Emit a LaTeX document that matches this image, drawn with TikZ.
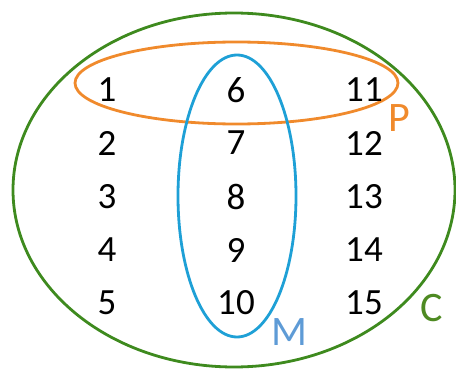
\documentclass[tikz,border=0pt]{standalone}
\usepackage{fontspec}
\setmainfont{Carlito}
\definecolor{cgreen}{HTML}{3E8A1E}
\definecolor{corange}{HTML}{F08A2C}
\definecolor{cblue}{HTML}{1EA0D6}
\definecolor{lblue}{HTML}{5E9BD6}
\definecolor{lgreen}{HTML}{4E8A22}
\begin{document}
\begin{tikzpicture}[x=1pt,y=-1pt,
  num/.style={font=\fontsize{37}{37}\selectfont, inner sep=0pt, anchor=center},
  lab/.style={font=\fontsize{42}{42}\selectfont, inner sep=0pt, anchor=center},
  ring/.style={line width=2.8pt}]
\useasboundingbox (0,0) rectangle (456,369);
\draw[ring, cgreen] (234,190) ellipse [x radius=221, y radius=177];
\draw[ring, corange] (236.5,83) ellipse [x radius=161.5, y radius=41];
\draw[ring, cblue] (237,196) ellipse [x radius=59, y radius=141];
\foreach \c/\x in {0/107,1/236,2/364}{
  \foreach \r/\y in {1/90,2/143,3/197,4/250,5/303}{
    \pgfmathtruncatemacro{\v}{\c*5+\r}
    \node[num] (n\v) at (\x,\y) {\v};
  }
}
\node[lab, text=corange] (P) at (399,118) {P};
\node[lab, text=lblue] (M) at (289,332) {M};
\node[lab, text=lgreen] (C) at (432,308) {C};
\end{tikzpicture}
\end{document}
